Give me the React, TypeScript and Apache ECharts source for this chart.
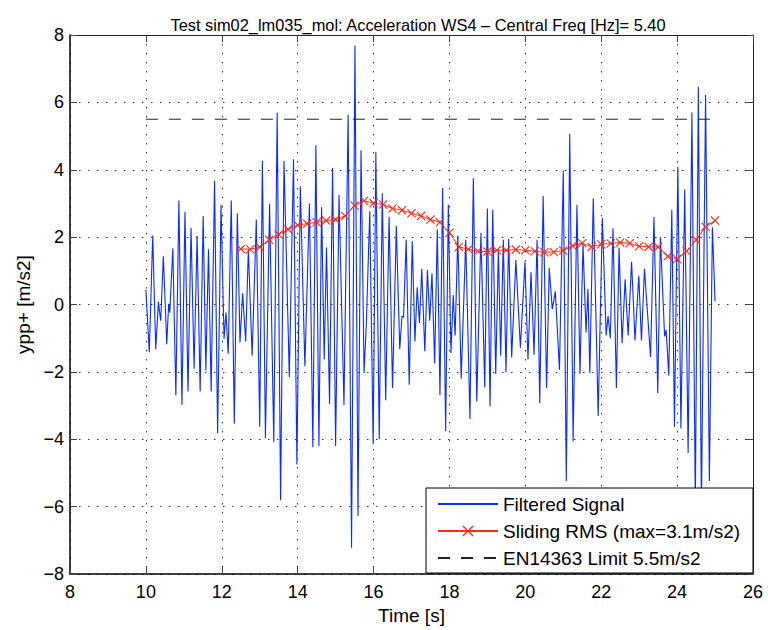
import React, { useEffect, useRef } from "react";
import * as echarts from "echarts";

const FONT = "'Liberation Sans', Arial, Helvetica, sans-serif";

const titleText = "Test sim02_lm035_mol: Acceleration WS4 \u2013 Central Freq [Hz]= 5.40";
const seriesNames = ["Filtered Signal", "Sliding RMS (max=3.1m/s2)", "EN14363 Limit 5.5m/s2"];

// Filtered signal (time [s], value [m/s2]) at its turning points
const signalT = [
  10.00, 10.09, 10.18, 10.26, 10.33, 10.39, 10.46, 10.55, 10.60, 10.63, 10.71, 10.79, 10.87, 10.95, 11.03, 11.11,
  11.19, 11.27, 11.35, 11.43, 11.51, 11.58, 11.65, 11.72, 11.81, 11.89, 11.98, 12.06, 12.11, 12.17, 12.25, 12.33,
  12.41, 12.48, 12.55, 12.63, 12.70, 12.80, 12.91, 13.00, 13.07, 13.15, 13.26, 13.37, 13.46, 13.55, 13.64, 13.78,
  13.89, 13.98, 14.07, 14.19, 14.31, 14.40, 14.48, 14.56, 14.63, 14.70, 14.76, 14.84, 14.92, 15.00, 15.09, 15.22,
  15.33, 15.42, 15.51, 15.59, 15.67, 15.75, 15.81, 15.90, 15.99, 16.06, 16.15, 16.23, 16.32, 16.41, 16.50, 16.60,
  16.69, 16.75, 16.79, 16.86, 16.94, 17.02, 17.09, 17.15, 17.21, 17.27, 17.35, 17.42, 17.48, 17.54, 17.61, 17.68,
  17.75, 17.82, 17.90, 17.97, 18.04, 18.10, 18.15, 18.22, 18.31, 18.43, 18.54, 18.63, 18.72, 18.83, 18.93, 19.00,
  19.07, 19.14, 19.22, 19.29, 19.35, 19.42, 19.49, 19.56, 19.64, 19.75, 19.87, 19.99, 20.07, 20.15, 20.23, 20.31,
  20.38, 20.47, 20.56, 20.63, 20.71, 20.79, 20.90, 21.00, 21.08, 21.17, 21.26, 21.36, 21.44, 21.52, 21.60, 21.65,
  21.70, 21.79, 21.92, 22.03, 22.13, 22.18, 22.24, 22.31, 22.40, 22.47, 22.55, 22.63, 22.71, 22.80, 22.89, 22.99,
  23.06, 23.14, 23.30, 23.39, 23.49, 23.56, 23.67, 23.71, 23.78, 23.86, 23.93, 24.02, 24.10, 24.20, 24.29, 24.39,
  24.48, 24.56, 24.64, 24.75, 24.85, 24.93, 25.00,
];
const signalV = [
  0.44, -1.42, 2.05, -1.33, 0.07, -0.48, 1.43, -1.18, 0.02, -0.24, 1.67, -2.69, 3.09, -2.98, 2.75, -2.58,
  2.28, -1.91, 2.03, -2.58, 2.63, -1.96, 1.64, -2.58, 3.67, -3.83, 2.96, -1.02, -0.24, -1.46, 3.09, -3.54,
  2.71, -1.13, 0.33, -1.10, 1.64, -1.52, 2.52, -3.63, 4.27, -3.96, 2.98, -4.09, 5.69, -5.81, 4.27, -2.15,
  4.31, -4.75, 3.51, -1.83, 3.00, -4.23, 4.73, -4.20, 2.89, -1.63, 1.69, -2.95, 4.05, -4.20, 3.25, -2.98,
  5.63, -7.22, 7.69, -6.28, 4.58, -2.04, -0.58, 2.77, -4.15, 4.53, -3.99, 3.30, -2.84, 2.60, -2.48, 2.33,
  -1.33, -0.34, -0.38, 1.92, -2.38, 1.88, -1.10, 0.51, -0.55, 1.06, -1.39, 1.03, -0.48, 0.93, -1.75, 2.23,
  -2.69, 3.46, -3.76, 2.97, -1.44, 0.28, -0.92, 2.05, -2.20, 1.92, -3.40, 3.75, -2.88, 2.13, -2.46, 2.85,
  -3.02, 2.81, -2.06, 1.64, -1.52, 1.92, -2.01, 1.95, -1.57, 1.32, -1.28, 1.27, -1.63, 0.96, -1.49, 1.92,
  -2.92, 3.22, -2.48, 1.08, -0.14, 0.39, -1.94, 3.98, -5.24, 5.07, -4.07, 2.96, -2.06, 1.79, -0.83, 0.46,
  -2.04, 3.15, -3.31, 2.57, -0.92, -0.34, -1.00, 2.26, -2.48, 1.69, -1.15, 0.75, -0.92, 1.27, -1.07, 0.85,
  -1.07, 1.06, -1.56, 2.60, -2.63, 2.00, -0.95, -0.75, -2.11, 2.81, -3.63, 4.08, -3.68, 3.41, -4.41, 5.70,
  -6.00, 6.46, -6.10, 6.22, -5.24, 2.29, 0.10,
];

// Sliding RMS
const rmsT = [
  12.5, 12.75, 13.0, 13.25, 13.5, 13.75, 14.0, 14.25, 14.5, 14.75, 15.0, 15.25, 15.5, 15.75, 16.0, 16.25, 16.5,
  16.75, 17.0, 17.25, 17.5, 17.75, 18.0, 18.25, 18.5, 18.75, 19.0, 19.25, 19.5, 19.75, 20.0, 20.25, 20.5, 20.75,
  21.0, 21.25, 21.5, 21.75, 22.0, 22.25, 22.5, 22.75, 23.0, 23.25, 23.5, 23.75, 24.0, 24.25, 24.5, 24.75, 25.0,
];
const rmsV = [
  1.65, 1.64, 1.71, 1.92, 2.08, 2.23, 2.36, 2.40, 2.44, 2.49, 2.52, 2.63, 2.94, 3.08, 3.01, 2.97, 2.85,
  2.80, 2.71, 2.63, 2.52, 2.44, 2.13, 1.71, 1.64, 1.58, 1.57, 1.61, 1.61, 1.63, 1.61, 1.58, 1.55, 1.56,
  1.60, 1.74, 1.82, 1.71, 1.79, 1.81, 1.84, 1.82, 1.73, 1.71, 1.71, 1.43, 1.35, 1.58, 1.92, 2.31, 2.49,
];

// EN14363 limit
const limitT = [10, 25];
const limitV = [5.5, 5.5];

const xTicks = { min: 8, max: 26, interval: 2 };
const yTicks = { min: -8, max: 8, interval: 2 };

const X_PATH =
  "path://M0,0.9L0.9,0L5,4.1L9.1,0L10,0.9L5.9,5L10,9.1L9.1,10L5,5.9L0.9,10L0,9.1L4.1,5Z";

const minus = (v: number) => String(v).replace("-", "\u2212");

export default function App() {
  const ref = useRef<HTMLDivElement>(null);

  useEffect(() => {
    if (!ref.current) return;
    const chart = echarts.init(ref.current, undefined, { renderer: "svg" });

    const gridStyle = { type: [1.5, 7.5], color: "#333", width: 1 };
    const hidden = "rgba(0,0,0,0)";

    const option: any = {
      animation: false,
      textStyle: { fontFamily: FONT },
      grid: { left: 70, right: 15, top: 35, bottom: 56, containLabel: false },
      xAxis: [
        {
          type: "value",
          ...xTicks,
          position: "bottom",
          name: "Time [s]",
          nameLocation: "middle",
          nameGap: 25,
          nameTextStyle: { fontSize: 19, color: "#000", fontFamily: FONT },
          axisLine: { show: true, onZero: false, lineStyle: { color: "#000", width: 1.5 } },
          axisTick: { show: true, inside: true, length: 7, lineStyle: { color: "#444" } },
          axisLabel: { fontSize: 18, color: "#000", margin: 9, formatter: minus, fontFamily: FONT },
          splitLine: { show: true, lineStyle: gridStyle },
        },
        {
          type: "value",
          ...xTicks,
          position: "top",
          axisLine: { show: true, onZero: false, lineStyle: { color: "#222", width: 1 } },
          axisTick: { show: true, inside: true, length: 7, lineStyle: { color: "#444" } },
          axisLabel: { show: false },
          splitLine: { show: false },
        },
      ],
      yAxis: [
        {
          type: "value",
          ...yTicks,
          position: "left",
          name: "ypp+ [m/s2]",
          nameLocation: "middle",
          nameGap: 37,
          nameTextStyle: { fontSize: 19, color: "#000", fontFamily: FONT },
          axisLine: { show: true, onZero: false, lineStyle: { color: "#000", width: 1.5 } },
          axisTick: { show: true, inside: true, length: 7, lineStyle: { color: "#444" } },
          axisLabel: { fontSize: 18, color: "#000", margin: 6, formatter: minus, fontFamily: FONT },
          splitLine: { show: true, lineStyle: gridStyle },
        },
        {
          type: "value",
          ...yTicks,
          position: "right",
          axisLine: { show: true, onZero: false, lineStyle: { color: "#222", width: 1 } },
          axisTick: { show: true, inside: true, length: 7, lineStyle: { color: "#444" } },
          axisLabel: { show: false },
          splitLine: { show: false },
        },
      ],
      legend: {
        orient: "vertical",
        left: 437,
        top: 494,
        padding: 0,
        itemWidth: 60,
        itemHeight: 14,
        itemGap: 7,
        z: 10,
        data: seriesNames,
        textStyle: { fontSize: 19, color: "#000", lineHeight: 20, fontFamily: FONT },
      },
      graphic: [
        {
          type: "text",
          x: 418,
          y: 25,
          z: 10,
          style: {
            text: titleText,
            fill: "#000",
            fontSize: 16.4,
            fontFamily: FONT,
            align: "center",
            verticalAlign: "middle",
          },
        },
        {
          type: "rect",
          z: 5,
          shape: { x: 426, y: 488, width: 327, height: 85 },
          style: { fill: "#fff", stroke: "#000", lineWidth: 1 },
        },
      ],
      series: [
        {
          name: seriesNames[0],
          type: "line",
          xAxisIndex: 0,
          yAxisIndex: 0,
          symbol: "circle",
          showSymbol: false,
          data: signalT.map((t, i) => [t, signalV[i]]),
          lineStyle: { color: "#0a2cff", width: 1.1 },
          itemStyle: { color: hidden, borderWidth: 0 },
          z: 2,
        },
        {
          name: seriesNames[1],
          type: "line",
          xAxisIndex: 0,
          yAxisIndex: 0,
          symbol: X_PATH,
          symbolSize: 9,
          showAllSymbol: true,
          data: rmsT.map((t, i) => [t, rmsV[i]]),
          lineStyle: { color: "#ff2a10", width: 1 },
          itemStyle: { color: "#ff2a10" },
          z: 3,
        },
        {
          name: seriesNames[2],
          type: "line",
          xAxisIndex: 0,
          yAxisIndex: 0,
          symbol: "circle",
          showSymbol: false,
          data: limitT.map((t, i) => [t, limitV[i]]),
          lineStyle: { color: "#222", width: 1, type: [12, 11] },
          itemStyle: { color: hidden, borderWidth: 0 },
          z: 3,
        },
      ],
    };

    chart.setOption(option);
    return () => chart.dispose();
  }, []);

  return (
    <div
      ref={ref}
      style={{ position: "fixed", left: 0, top: 0, width: 768, height: 630, background: "#fff" }}
    />
  );
}
